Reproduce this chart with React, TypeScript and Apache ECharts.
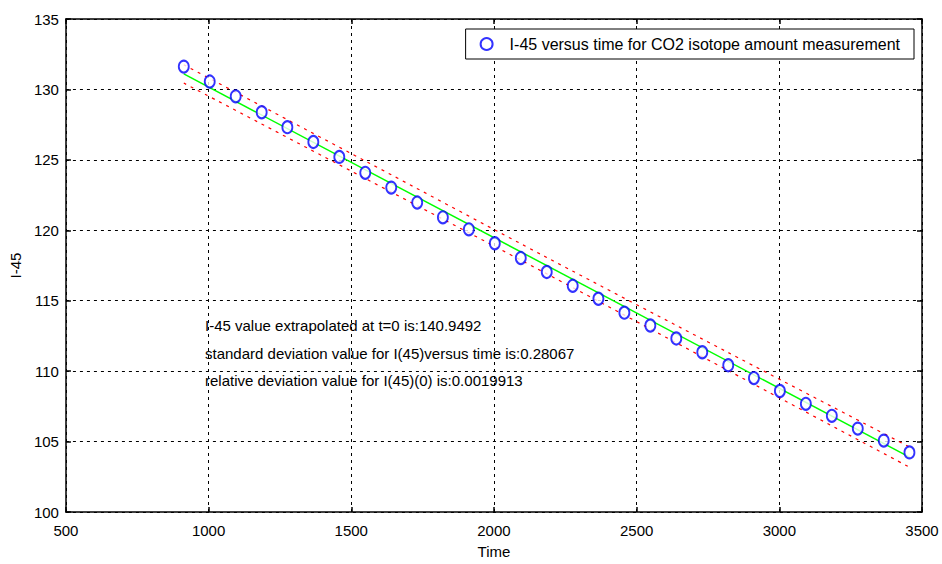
import React, { useEffect, useRef } from "react";
import * as echarts from "echarts";

const timeValues = [913, 1004, 1095, 1186, 1276, 1367, 1458, 1549, 1640, 1731, 1821, 1912, 2003, 2094, 2185, 2276, 2366, 2457, 2548, 2639, 2730, 2821, 2911, 3002, 3093, 3184, 3275, 3366, 3456];
const i45Values = [131.62, 130.56, 129.51, 128.38, 127.32, 126.27, 125.21, 124.08, 123.03, 121.97, 120.92, 120.07, 119.08, 118.03, 117.04, 116.06, 115.14, 114.15, 113.24, 112.32, 111.34, 110.42, 109.51, 108.59, 107.68, 106.83, 105.92, 105.07, 104.23];
const fitTimes = [913, 3456];
const fitValues = [131.1, 103.9];
const boundTimes = [913, 1549, 2185, 2821, 3456];
const upperValues = [131.75, 124.92, 118.07, 111.32, 104.62];
const lowerValues = [130.45, 123.68, 116.91, 110.04, 103.18];
const xTicks = { min: 500, max: 3500, interval: 500 };
const yTicks = { min: 100, max: 135, interval: 5 };
const legendName = "I-45 versus time for CO2 isotope amount measurement";
const annotations = [
  "I-45 value extrapolated at t=0 is:140.9492",
  "standard deviation value for I(45)versus time is:0.28067",
  "relative deviation value for I(45)(0) is:0.0019913",
];

const FONT = "'Liberation Sans', Arial, sans-serif";

export default function App() {
  const ref = useRef<HTMLDivElement>(null);
  useEffect(() => {
    if (!ref.current) return;
    const chart = echarts.init(ref.current, null, { renderer: "svg" });
    const zip = (a: number[], b: number[]) => a.map((v, i) => [v, b[i]]);
    const gridLine = { show: true, lineStyle: { color: "#000", type: [3, 4] as any, width: 1 } };
    const baseAxis = {
      axisLine: { show: true, onZero: false, lineStyle: { color: "#000", width: 1.5 } },
      axisTick: { show: true, inside: true, length: 5, lineStyle: { color: "#000", width: 1.5 } },
      axisLabel: { color: "#000", fontFamily: FONT, fontSize: 15, formatter: (v: number) => String(v) },
    };
    chart.setOption({
      animation: false,
      backgroundColor: "#fff",
      grid: { left: 65, right: 20, top: 19, bottom: 50, containLabel: false },
      legend: {
        data: [{ name: legendName, icon: "emptyCircle" }],
        right: 28,
        top: 29,
        padding: [7, 14, 7, 14],
        itemWidth: 12,
        itemHeight: 12,
        itemGap: 10,
        borderColor: "#000",
        borderWidth: 1,
        backgroundColor: "#fff",
        textStyle: { color: "#000", fontFamily: FONT, fontSize: 16, padding: [0, 0, 0, 12] },
      },
      xAxis: [
        {
          type: "value",
          position: "bottom",
          ...xTicks,
          name: "Time",
          nameLocation: "middle",
          nameGap: 32,
          nameTextStyle: { color: "#000", fontFamily: FONT, fontSize: 15 },
          ...baseAxis,
          axisLabel: { ...baseAxis.axisLabel, margin: 11 },
          splitLine: gridLine,
        },
        {
          type: "value",
          position: "top",
          ...xTicks,
          ...baseAxis,
          axisLabel: { show: false },
          splitLine: { show: false },
        },
      ],
      yAxis: [
        {
          type: "value",
          position: "left",
          ...yTicks,
          name: "I-45",
          nameLocation: "middle",
          nameGap: 42,
          nameTextStyle: { color: "#000", fontFamily: FONT, fontSize: 15 },
          ...baseAxis,
          axisLabel: { ...baseAxis.axisLabel, margin: 7 },
          splitLine: gridLine,
        },
        {
          type: "value",
          position: "right",
          ...yTicks,
          ...baseAxis,
          axisLabel: { show: false },
          splitLine: { show: false },
        },
      ],
      series: [
        {
          name: "fit",
          type: "line",
          data: zip(fitTimes, fitValues),
          showSymbol: false,
          lineStyle: { color: "#00ff00", width: 1.5 },
          z: 3,
        },
        {
          name: "upper",
          type: "line",
          data: zip(boundTimes, upperValues),
          showSymbol: false,
          smooth: 0.3,
          lineStyle: { color: "#ff0000", width: 1.2, type: [3, 5] },
          z: 3,
        },
        {
          name: "lower",
          type: "line",
          data: zip(boundTimes, lowerValues),
          showSymbol: false,
          smooth: 0.3,
          lineStyle: { color: "#ff0000", width: 1.2, type: [3, 5] },
          z: 3,
        },
        {
          name: legendName,
          type: "scatter",
          data: zip(timeValues, i45Values),
          symbol: "emptyCircle",
          symbolSize: [10, 12],
          itemStyle: { color: "#0000ff", borderColor: "#0000ff", borderWidth: 1.3 },
          z: 4,
        },
      ],
      graphic: annotations.map((t, i) => ({
        type: "text",
        left: 205,
        top: 318 + i * 27.5,
        style: { text: t, fill: "#000", font: `15px ${FONT}` },
        z: 10,
      })),
    });
    return () => chart.dispose();
  }, []);
  return <div ref={ref} style={{ width: 942, height: 564, position: "absolute", left: 0, top: 0 }} />;
}
